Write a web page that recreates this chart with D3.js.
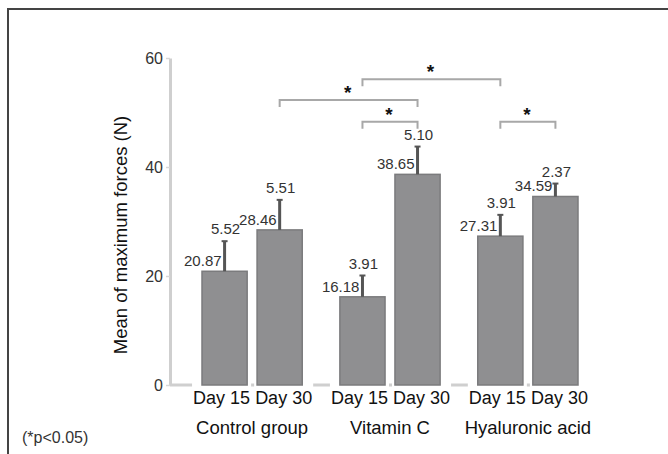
<!DOCTYPE html>
<html>
<head>
<meta charset="utf-8">
<script src="https://cdn.jsdelivr.net/npm/d3@7"></script>
<style>
  body { margin: 0; background: #fff; }
  text { font-family: "Liberation Sans", Arial, Helvetica, sans-serif; }
</style>
</head>
<body>
<svg id="chart" width="668" height="454"></svg>
<script>
// values
const groups = ["Control group", "Vitamin C", "Hyaluronic acid"];
const days = ["Day 15", "Day 30"];
const means = [[20.87, 28.46], [16.18, 38.65], [27.31, 34.59]];
const sds = [[5.52, 5.51], [3.91, 5.10], [3.91, 2.37]];
const yTicks = [0, 20, 40, 60];
// significance brackets: [group, day] -> [group, day], drawn at a level in N
const sigFrom = [[0, 1], [1, 0], [1, 0], [2, 0]];
const sigTo = [[1, 1], [1, 1], [2, 0], [2, 1]];
const sigLevel = [52.3, 48.3, 56.1, 48.3];

const width = 668, height = 454;
const svg = d3.select("#chart");

const bars = [];
groups.forEach((g, i) => days.forEach((d, j) => {
  bars.push({group: g, day: d, mean: means[i][j], sd: sds[i][j], j});
}));

const y = d3.scaleLinear().domain([0, 60]).range([385, 58]);
const x0 = d3.scaleBand().domain(groups).range([202, 578]).paddingInner(0.273).paddingOuter(0);
const x1 = d3.scaleBand().domain(days).range([0, x0.bandwidth()]).paddingInner(0.18);
const cx = (g, d) => x0(g) + x1(d) + x1.bandwidth() / 2;
const axisX = 170;

// frame (top + left)
svg.append("path")
    .attr("d", `M8,${height} V9 H${width}`)
    .attr("fill", "none")
    .attr("stroke", "#444")
    .attr("stroke-width", 2);

// y axis
const yAxis = svg.append("g")
    .attr("transform", `translate(${axisX},0)`)
    .call(d3.axisLeft(y).tickValues(yTicks).tickSize(4).tickSizeOuter(0).tickPadding(3));
yAxis.select(".domain").attr("stroke", "#cfcfcf").attr("stroke-width", 3);
yAxis.selectAll(".tick line").attr("stroke", "#d8d8d8").attr("stroke-width", 1.5);
yAxis.selectAll(".tick text")
    .attr("font-size", 16)
    .attr("fill", "#333")
    .attr("font-family", "Liberation Sans, Arial, sans-serif");

// baseline
svg.append("line")
    .attr("x1", axisX).attr("x2", x0(groups[2]) + x0.bandwidth())
    .attr("y1", y(0)).attr("y2", y(0))
    .attr("stroke", "#cfcfcf")
    .attr("stroke-width", 3);

// day labels with white boxes that hide the baseline behind them
const dayShift = [-3, 4];
const dayG = svg.append("g");
const dayText = dayG.selectAll("text")
  .data(bars)
  .join("text")
    .attr("x", d => cx(d.group, d.day) + dayShift[d.j])
    .attr("y", 404)
    .attr("text-anchor", "middle")
    .attr("font-size", 18)
    .attr("fill", "#111")
    .text(d => d.day);
dayText.each(function() {
  const b = this.getBBox();
  dayG.insert("rect", "text")
      .attr("x", b.x - 1).attr("y", 383)
      .attr("width", b.width + 2).attr("height", 24)
      .attr("fill", "#fff");
});

// bars
svg.append("g")
  .selectAll("rect")
  .data(bars)
  .join("rect")
    .attr("x", d => x0(d.group) + x1(d.day))
    .attr("y", d => y(d.mean))
    .attr("width", x1.bandwidth())
    .attr("height", d => y(0) - y(d.mean))
    .attr("fill", "#8f8f91")
    .attr("stroke", "#7b7b7d")
    .attr("stroke-width", 1.5);

// error bars
const err = svg.append("g").attr("stroke", "#555");
err.selectAll("line.v")
  .data(bars)
  .join("line")
    .attr("class", "v")
    .attr("x1", d => cx(d.group, d.day)).attr("x2", d => cx(d.group, d.day))
    .attr("y1", d => y(d.mean)).attr("y2", d => y(d.mean + d.sd))
    .attr("stroke-width", 3);
err.selectAll("line.c")
  .data(bars)
  .join("line")
    .attr("class", "c")
    .attr("x1", d => cx(d.group, d.day) - 3).attr("x2", d => cx(d.group, d.day) + 3)
    .attr("y1", d => y(d.mean + d.sd)).attr("y2", d => y(d.mean + d.sd))
    .attr("stroke-width", 2);

// value labels
svg.append("g")
  .selectAll("text")
  .data(bars)
  .join("text")
    .attr("x", d => cx(d.group, d.day) - 3)
    .attr("y", d => y(d.mean) - 5)
    .attr("text-anchor", "end")
    .attr("font-size", 15)
    .attr("fill", "#333")
    .text(d => d.mean.toFixed(2));
svg.append("g")
  .selectAll("text")
  .data(bars)
  .join("text")
    .attr("x", d => cx(d.group, d.day) + 1)
    .attr("y", d => y(d.mean + d.sd) - 7)
    .attr("text-anchor", "middle")
    .attr("font-size", 15)
    .attr("fill", "#333")
    .text(d => d.sd.toFixed(2));

// significance brackets
const sig = sigFrom.map((f, i) => ({
  x1: cx(groups[f[0]], days[f[1]]),
  x2: cx(groups[sigTo[i][0]], days[sigTo[i][1]]),
  yy: y(sigLevel[i])
}));
svg.append("g")
  .selectAll("path")
  .data(sig)
  .join("path")
    .attr("d", d => `M${d.x1},${d.yy + 7} V${d.yy} H${d.x2} V${d.yy + 7}`)
    .attr("fill", "none")
    .attr("stroke", "#a8a8a8")
    .attr("stroke-width", 2);
svg.append("g")
  .selectAll("text")
  .data(sig)
  .join("text")
    .attr("x", d => (d.x1 + d.x2) / 2 - 1)
    .attr("y", d => d.yy - 1)
    .attr("text-anchor", "middle")
    .attr("font-size", 19)
    .attr("font-weight", "bold")
    .attr("fill", "#111")
    .text("*");

// group labels
svg.append("g")
  .selectAll("text")
  .data(groups)
  .join("text")
    .attr("x", g => x0(g) + x0.bandwidth() / 2)
    .attr("y", 434)
    .attr("text-anchor", "middle")
    .attr("font-size", 18.5)
    .attr("fill", "#111")
    .text(g => g);

// y title
svg.append("text")
    .attr("transform", `translate(127,235) rotate(-90)`)
    .attr("text-anchor", "middle")
    .attr("font-size", 18.5)
    .attr("fill", "#111")
    .text("Mean of maximum forces (N)");

// footnote
svg.append("text")
    .attr("x", 22)
    .attr("y", 443)
    .attr("font-size", 16)
    .attr("fill", "#333")
    .text("(*p<0.05)");
</script>
</body>
</html>
